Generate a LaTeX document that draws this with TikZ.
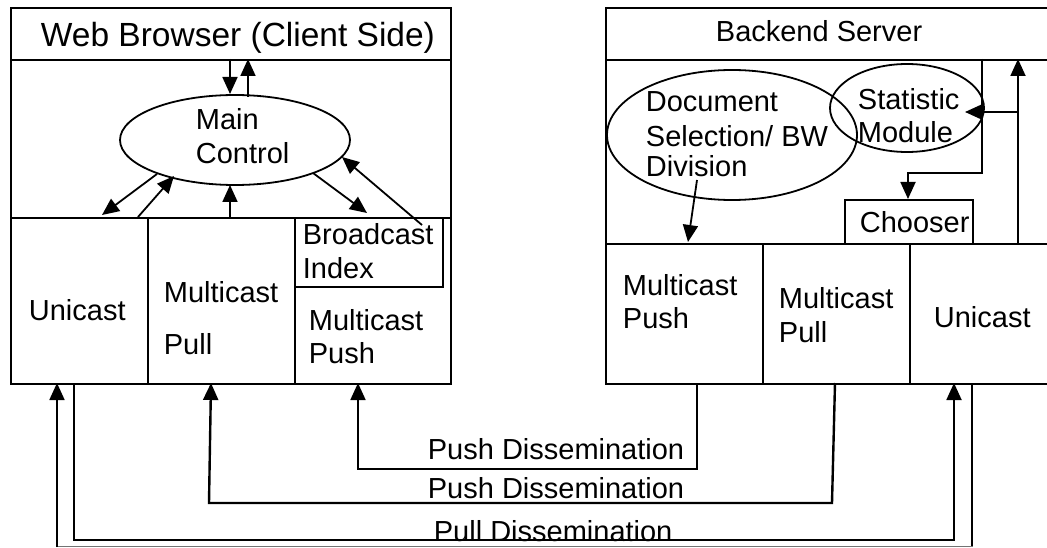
\documentclass[tikz,border=0pt]{standalone}
\usepackage{fontspec}
\setmainfont{Liberation Sans}
\usetikzlibrary{arrows.meta,shapes.geometric}
\begin{document}
\begin{tikzpicture}[x=1pt,y=-1pt, line width=1.8pt,
  lbl/.style={anchor=base west, inner sep=0pt, font=\fontsize{29}{33}\selectfont},
  ttl/.style={anchor=base west, inner sep=0pt, font=\fontsize{33.5}{38}\selectfont},
  arr/.style={-{Triangle[length=17pt,width=15pt]}},
  oval/.style={draw, ellipse, inner sep=0pt},
  box/.style={draw, rectangle, inner sep=0pt, anchor=north west}]
\useasboundingbox (0,0) rectangle (1047,548);
\clip (0,0) rectangle (1047,548);

% ---------- Web Browser ----------
\node[box, minimum width=440pt, minimum height=52pt]  (wbTitle) at (10,7) {};
\node[box, minimum width=440pt, minimum height=158pt] (wbCtrl)  at (10,59) {};
\node[box, minimum width=137pt, minimum height=166pt] (wbUni)   at (10,217) {};
\node[box, minimum width=147pt, minimum height=166pt] (wbMpull) at (147,217) {};
\node[box, minimum width=156pt, minimum height=166pt] (wbMpush) at (294,217) {};
\node[box, minimum width=148pt, minimum height=69pt]  (wbBI)    at (294,217) {};
\node[oval, minimum width=230pt, minimum height=90pt] (mc) at (235,140) {};

\node[ttl] (tWB) at (40,47) {Web Browser (Client Side)};
\node[lbl] (tMain) at (195,130) {Main};
\node[lbl] (tCtrl) at (195,164) {Control};
\node[lbl] (tUniL) at (28,320) {Unicast};
\node[lbl] (tMpl1) at (163,302) {Multicast};
\node[lbl] (tMpl2) at (163,354) {Pull};
\node[lbl] (tBI1) at (302,245) {Broadcast};
\node[lbl] (tBI2) at (302,278) {Index};
\node[lbl] (tMps1) at (308,330) {Multicast};
\node[lbl] (tMps2) at (308,363) {Push};

% ---------- Backend Server ----------
\node[box, minimum width=455pt, minimum height=52pt]  (bsTitle) at (605,7) {};
\node[box, minimum width=455pt, minimum height=184pt] (bsCtrl)  at (605,59) {};
\node[box, minimum width=157pt, minimum height=140pt] (bsMpush) at (605,243) {};
\node[box, minimum width=147pt, minimum height=140pt] (bsMpull) at (762,243) {};
\node[box, minimum width=151pt, minimum height=140pt] (bsUni)   at (909,243) {};
\node[box, minimum width=128pt, minimum height=44pt]  (chooser) at (844,199) {};
\node[oval, minimum width=250pt, minimum height=130pt] (doc) at (732,135) {};
\node[oval, minimum width=154pt, minimum height=88pt]  (stat) at (907,108) {};

\node[lbl] (tBS) at (715,42) {Backend Server};
\node[lbl] (tDoc1) at (645,112) {Document};
\node[lbl] (tDoc2) at (645,147) {Selection/ BW};
\node[lbl] (tDoc3) at (645,177) {Division};
\node[lbl] (tSt1) at (857,110) {Statistic};
\node[lbl] (tSt2) at (857,143) {Module};
\node[lbl] (tCh) at (859,233) {Chooser};
\node[lbl] (tRMps1) at (622,295) {Multicast};
\node[lbl] (tRMps2) at (622,328) {Push};
\node[lbl] (tRMpl1) at (778,308) {Multicast};
\node[lbl] (tRMpl2) at (778,342) {Pull};
\node[lbl] (tRUni) at (933,327) {Unicast};

% ---------- bottom labels ----------
\node[lbl] (tPush1) at (427,459) {Push Dissemination};
\node[lbl] (tPush2) at (427,498) {Push Dissemination};
\node[lbl] (tPull)  at (433,541) {Pull Dissemination};

% ---------- connector end points ----------
\coordinate (a1s) at (230,59);  \coordinate (a1e) at (230,94);
\coordinate (a2s) at (248,97);  \coordinate (a2e) at (248,59);
\coordinate (a3s) at (157,174); \coordinate (a3e) at (102,215);
\coordinate (a4s) at (138,217); \coordinate (a4e) at (174,176);
\coordinate (a5s) at (230,217); \coordinate (a5e) at (230,185);
\coordinate (a6s) at (313,173); \coordinate (a6e) at (367,213);
\coordinate (a7s) at (422,225); \coordinate (a7e) at (342,157);

\coordinate (b1s) at (697,180); \coordinate (b1e) at (688,242);
\coordinate (b2s) at (982,59);  \coordinate (b2m) at (982,173); \coordinate (b2e) at (908,199);
\coordinate (b3s) at (1018,243); \coordinate (b3e) at (1018,59);
\coordinate (b4s) at (1018,112); \coordinate (b4e) at (965,112);

\coordinate (p1s) at (697,383); \coordinate (p1e) at (358,383);
\coordinate (p2s) at (835,383); \coordinate (p2b) at (832,503); \coordinate (p2c) at (209,503); \coordinate (p2e) at (211,383);
\coordinate (q1s) at (74,383);  \coordinate (q1e) at (954,383);
\coordinate (q2s) at (972,383); \coordinate (q2e) at (57,383);

% ---------- connectors ----------
\draw[arr] (a1s) -- (a1e);
\draw[arr] (a2s) -- (a2e);
\draw[arr] (a3s) -- (a3e);
\draw[arr] (a4s) -- (a4e);
\draw[arr] (a5s) -- (a5e);
\draw[arr] (a6s) -- (a6e);
\draw[arr] (a7s) -- (a7e);

\draw[arr] (b1s) -- (b1e);
\draw[arr] (b2s) -- (b2m) -| (b2e);
\draw[arr] (b3s) -- (b3e);
\draw[arr] (b4s) -- (b4e);

\draw[arr] (p1s) -- (697,469) -| (p1e);
\draw[arr, line width=2.4pt] (p2s) -- (p2b) -- (p2c) -- (p2e);
\draw[arr] (q1s) -- (74,540) -| (q1e);
\draw[draw=black!55, line width=1.4pt] (q2s) -- (972,546.5) -- (57,546.5);
\draw[line width=1.8pt] (q2s) -- (972,546);
\draw[arr] (57,547) -- (q2e);
\end{tikzpicture}
\end{document}
